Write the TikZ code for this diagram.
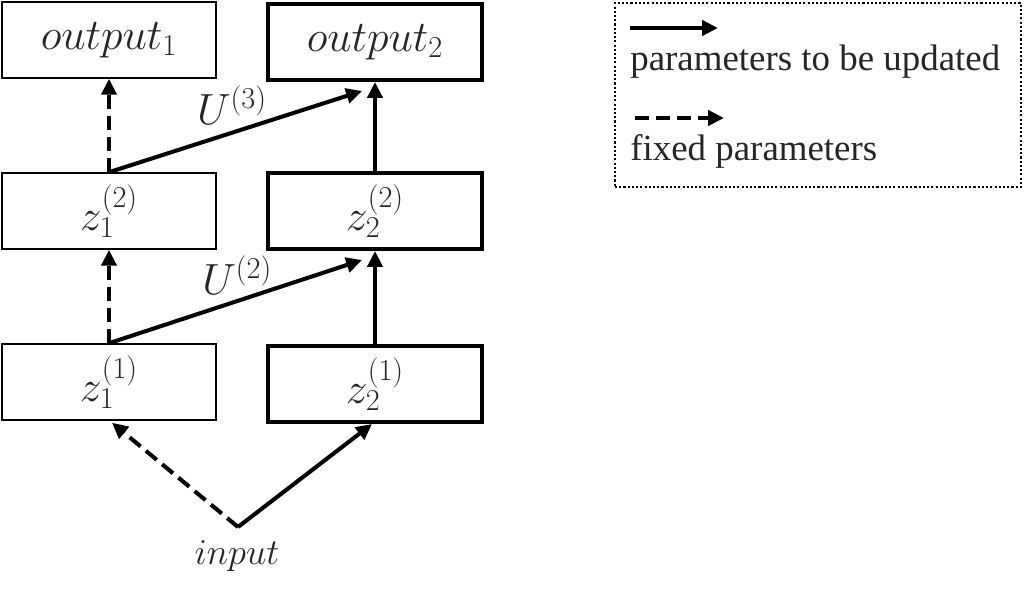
\documentclass[tikz,border=0pt]{standalone}
\usepackage{fontspec}
\setmainfont{Liberation Serif}
\usetikzlibrary{arrows.meta, calc, positioning}
\definecolor{txtgray}{RGB}{38,38,38}
\DeclareMathSizes{23}{23}{17}{13}

\tikzset{
  layer/.style={draw, line width=0.9pt, minimum width=4.28cm, minimum height=1.52cm, font=\fontsize{23}{27}\selectfont, text=txtgray},
  trained/.style={layer, line width=2.3pt},
  upd/.style={line width=2.3pt, -{Triangle[length=9pt,width=8.5pt]}},
  fixd/.style={upd, dash pattern=on 8pt off 4pt},
  lbl/.style={font=\fontsize{21}{24}\selectfont, text=txtgray},
  mlbl/.style={font=\fontsize{23}{27}\selectfont, text=txtgray},
}

\begin{document}
\begin{tikzpicture}[x=0.02cm, y=-0.02cm]
\useasboundingbox (0,0) rectangle (1031,590);
% layers
\node[layer] (o1) at (109, 40) {$output_1$};
\node[trained] (o2) at (375, 42) {$output_2$};
\node[layer] (z12) at (109, 211) {$z_1^{(2)}$};
\node[trained] (z22) at (375, 211) {$z_2^{(2)}$};
\node[layer] (z11) at (109, 382) {$z_1^{(1)}$};
\node[trained] (z21) at (375, 384) {$z_2^{(1)}$};
\coordinate (inp) at (238, 527);
\node[lbl] (inplbl) at (237, 556) {$input$};
% connections
\draw[fixd] (z12.north) -- (o1.south);
\draw[upd] (z12.north) -- node[mlbl, midway, above=3pt, xshift=-2pt, inner sep=0pt] {$U^{(3)}$} ($(o2.south)+(-13,9)$);
\draw[upd] (z22.north) -- (o2.south);
\draw[fixd] (z11.north) -- (z12.south);
\draw[upd] (z11.north) -- node[mlbl, midway, above=3pt, xshift=1pt, inner sep=0pt] {$U^{(2)}$} ($(z22.south)+(-13,9)$);
\draw[upd] (z21.north) -- (z22.south);
\draw[fixd] (inp) -- ($(z11.south)+(3,2)$);
\draw[upd] (inp) -- ($(z21.south)+(-3,0)$);
% legend
\node[draw, line width=1.2pt, dash pattern=on 1.2pt off 1.2pt, minimum width=8.12cm, minimum height=3.68cm] (legend) at (818, 95) {};
\coordinate (ua) at (630, 28);
\coordinate (ub) at (718, 28);
\coordinate (fa) at (635, 118);
\coordinate (fb) at (724, 118);
\draw[upd] (ua) -- (ub);
\draw[fixd] (fa) -- (fb);
\node[lbl, anchor=west, inner sep=0pt] (updtxt) at (630, 62) {parameters to be updated};
\node[lbl, anchor=west, inner sep=0pt] (fixtxt) at (630, 151) {fixed parameters};
\end{tikzpicture}
\end{document}
